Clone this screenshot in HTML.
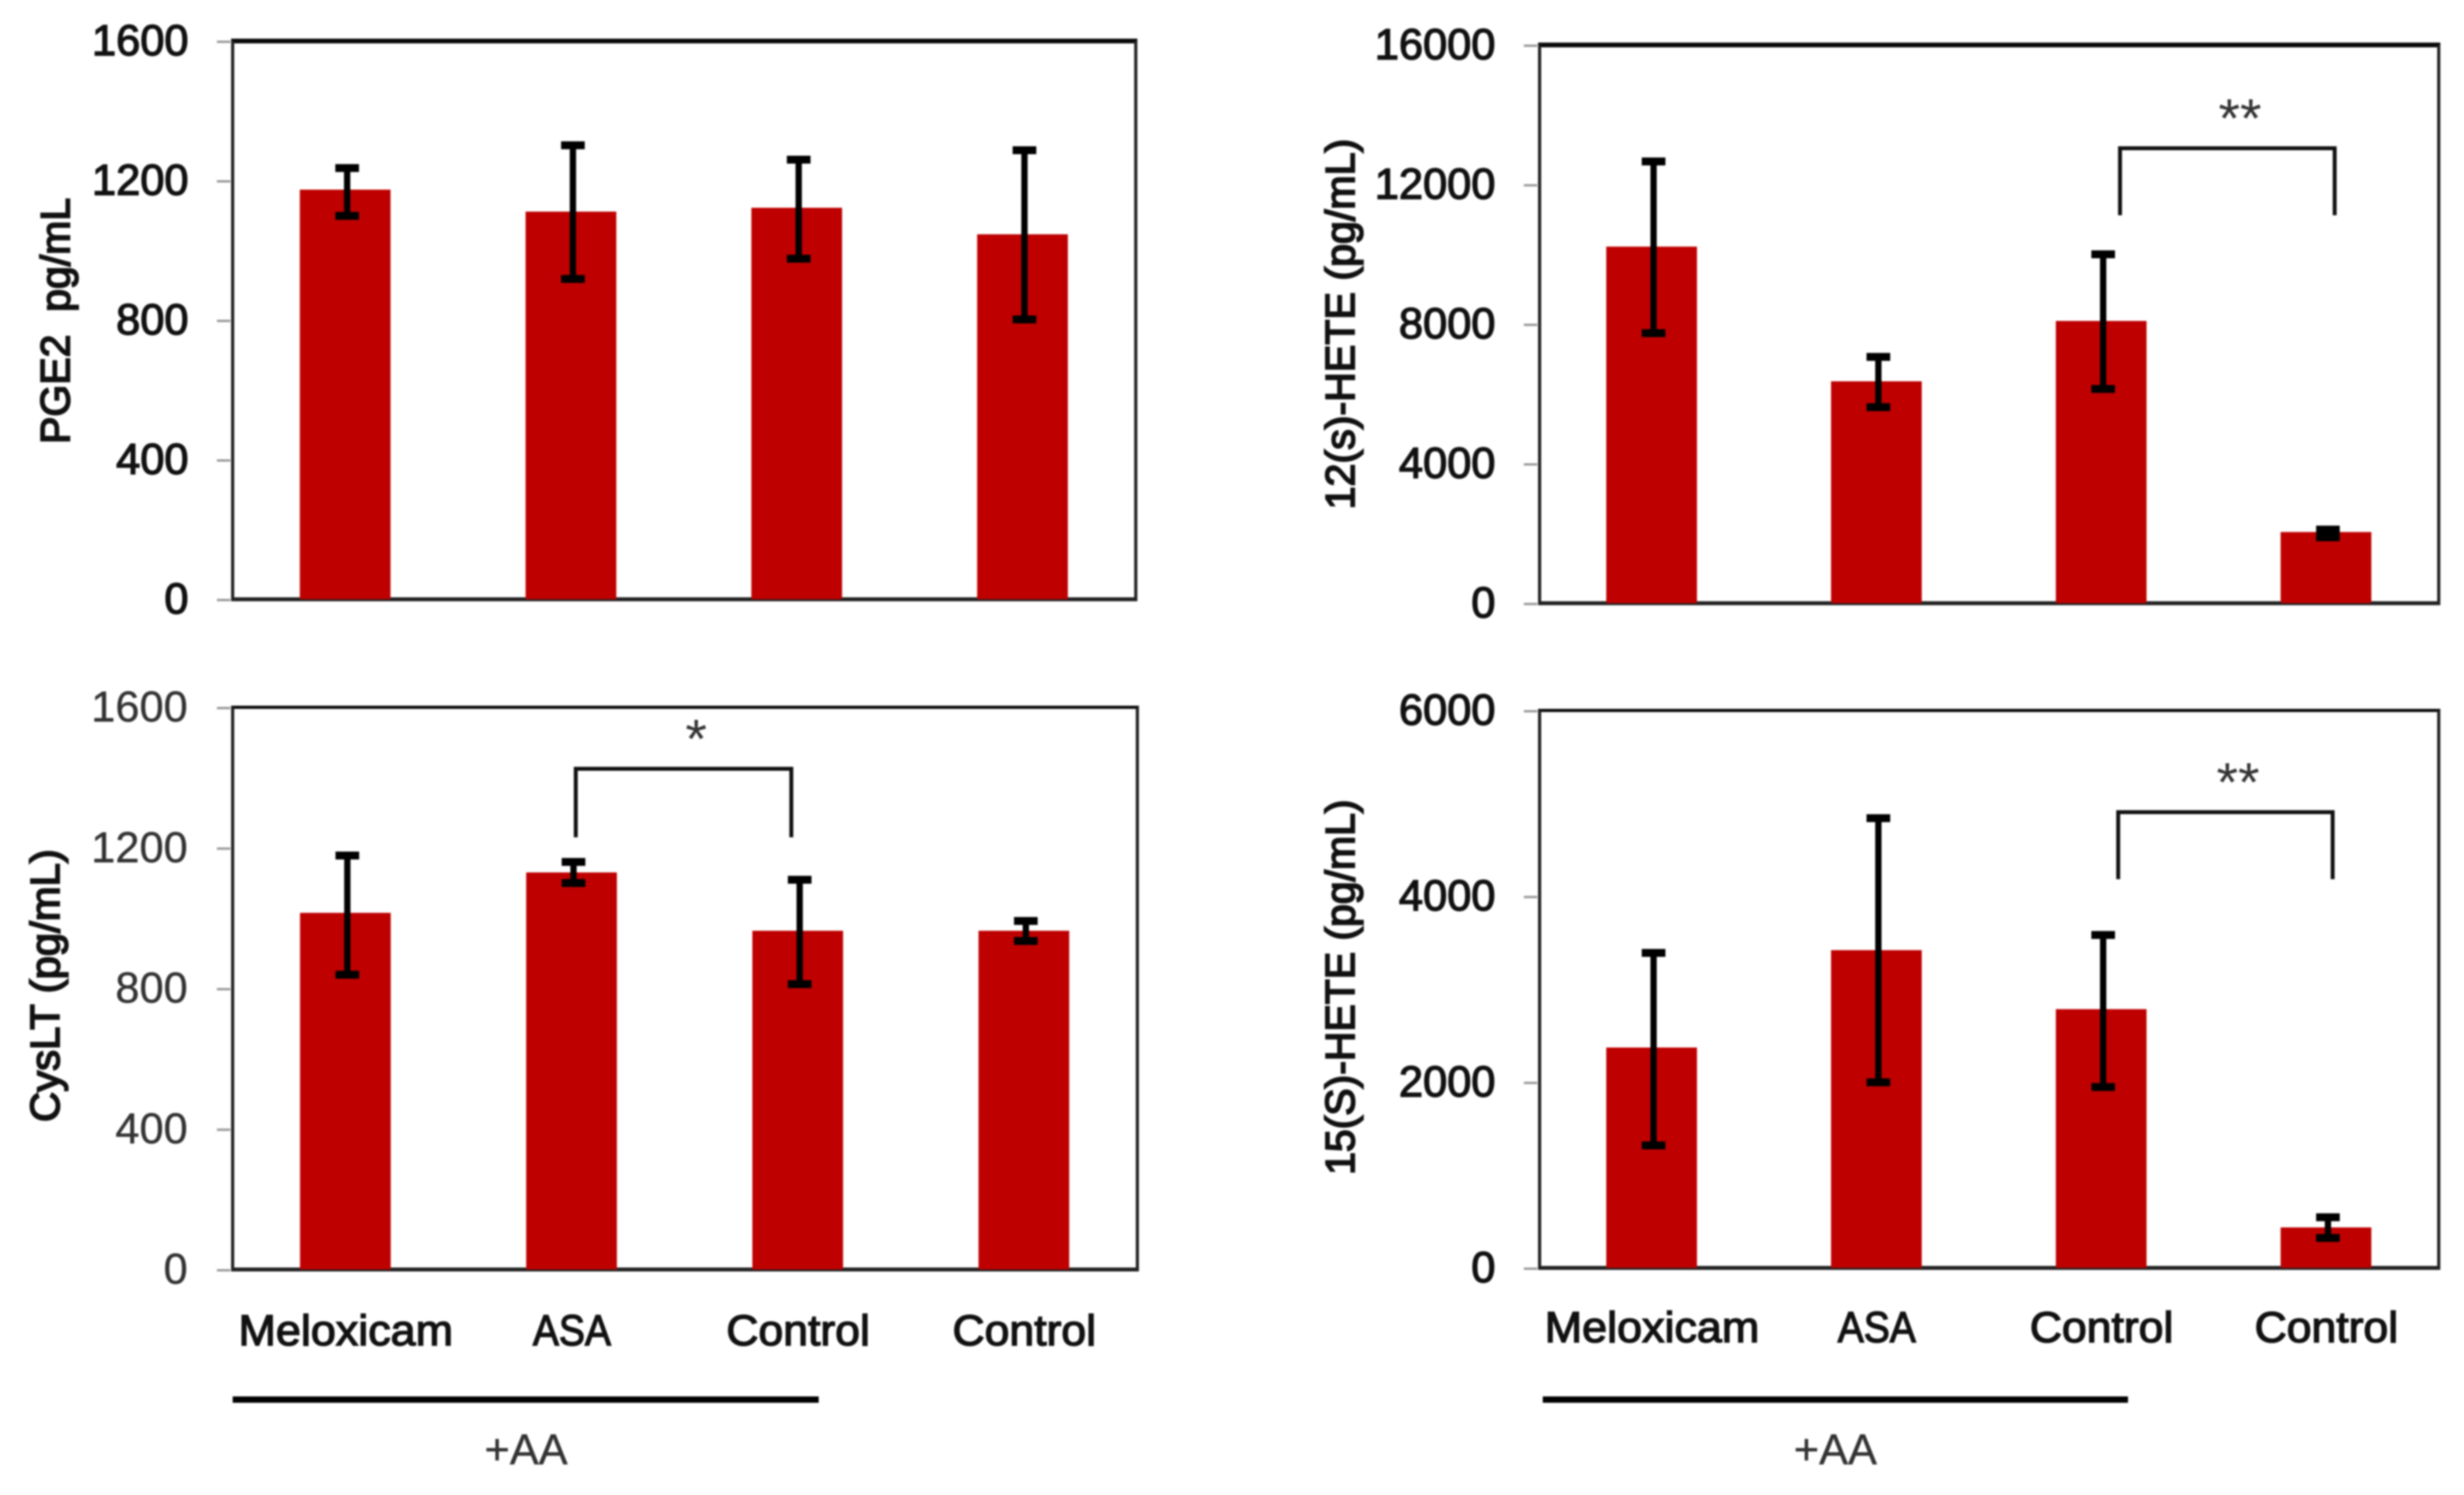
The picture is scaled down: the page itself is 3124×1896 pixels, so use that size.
<!DOCTYPE html>
<html lang="en">
<head>
<meta charset="utf-8">
<title>Eicosanoid levels by treatment</title>
<style>
  html, body { margin: 0; padding: 0; background: #fff; }
  body { width: 3124px; height: 1896px; overflow: hidden; }
  svg { display: block; filter: blur(1px); }
  text { font-family: "Liberation Sans", sans-serif; fill: #111; }
  .semi { stroke: #111; stroke-width: 1.7px; }
  .title { stroke: #111; stroke-width: 2.2px; }
  .light { fill: #333; stroke: #333; stroke-width: 0.5px; }
  .star { fill: #333; }
</style>
</head>
<body>
<svg id="figure" width="3124" height="1896" viewBox="0 0 3124 1896" xmlns="http://www.w3.org/2000/svg"></svg>
<script>
const categories = ["Meloxicam", "ASA", "Control", "Control"];

const pge2Values = [1174, 1111, 1122, 1046];
const pge2Upper = [1236, 1301, 1260, 1287];
const pge2Lower = [1099, 918, 976, 802];
const pge2Ticks = [0, 400, 800, 1200, 1600];

const hete12Values = [10220, 6360, 8090, 2040];
const hete12Upper = [12660, 7060, 10000, 2110];
const hete12Lower = [7740, 5620, 6140, 1890];
const hete12Ticks = [0, 4000, 8000, 12000, 16000];

const cysltValues = [1015, 1130, 964, 964];
const cysltUpper = [1178, 1160, 1109, 992];
const cysltLower = [839, 1100, 812, 935];
const cysltTicks = [0, 400, 800, 1200, 1600];

const hete15Values = [2372, 3420, 2785, 436];
const hete15Upper = [3390, 4840, 3583, 545];
const hete15Lower = [1319, 1998, 1947, 323];
const hete15Ticks = [0, 2000, 4000, 6000];

const NS = "http://www.w3.org/2000/svg";
const root = document.getElementById("figure");

function make(tag, attrs, parent, content) {
  const node = document.createElementNS(NS, tag);
  for (const key in attrs) node.setAttribute(key, attrs[key]);
  if (content !== undefined) node.textContent = content;
  parent.appendChild(node);
  return node;
}

function drawPanel(p) {
  const g = make("g", {}, root);
  
  

  const yMax = p.ticks[p.ticks.length - 1];
  const y = v => p.bottom - (v / yMax) * (p.bottom - p.top);
  const band = (p.right - p.left) / categories.length;
  const x = i => p.left + band * (i + 0.5);

  p.ticks.forEach(t => {
    const tick = make("line", { x1: p.left - 20, x2: p.left - 3, y1: y(t) + 1, y2: y(t) + 1, stroke: "#9a9a9a", "stroke-width": 3 }, g);
    
    
    const label = make("text", { x: p.labelRight, y: y(t) + 18, "text-anchor": "end", "font-size": 55, class: p.tickClass }, g, String(t));
    
    
  });

  const frame = make("g", {}, g);
  
  
  make("line", { x1: p.left - 2, x2: p.right + 2, y1: p.top, y2: p.top, stroke: "#0a0a0a", "stroke-width": p.topWeight }, frame);
  make("line", { x1: p.left, x2: p.left, y1: p.top, y2: p.bottom, stroke: "#222", "stroke-width": 4 }, frame);
  make("line", { x1: p.right, x2: p.right, y1: p.top, y2: p.bottom, stroke: "#222", "stroke-width": 4 }, frame);
  const base = make("line", { x1: p.left - 2, x2: p.right + 2, y1: p.bottom, y2: p.bottom, stroke: "#222", "stroke-width": 5 }, g);
  
  

  p.values.forEach((v, i) => {
    const bar = make("rect", { x: x(i) - 58, y: y(v), width: 115, height: p.bottom - y(v), fill: "#bf0000" }, g);
    
    
  });

  p.values.forEach((v, i) => {
    const err = make("g", { stroke: "#000", fill: "none" }, g);
    
    
    const cx = x(i) + 2;
    const hi = y(p.upper[i]);
    const lo = y(p.lower[i]);
    make("line", { x1: cx, x2: cx, y1: hi, y2: lo, "stroke-width": 8 }, err);
    make("line", { x1: cx - 15, x2: cx + 15, y1: hi, y2: hi, "stroke-width": 10 }, err);
    make("line", { x1: cx - 15, x2: cx + 15, y1: lo, y2: lo, "stroke-width": 10 }, err);
  });

  const title = make("text", {
    x: 0, y: 0, transform: "translate(" + p.titleX + "," + p.titleY + ") rotate(-90)",
    "text-anchor": "middle", "font-size": 52, class: "title",
    textLength: p.titleLen, lengthAdjust: "spacingAndGlyphs"
  }, g, p.title);
  title.style.whiteSpace = "pre";
  
  

  if (p.bracket) {
    const b = p.bracket;
    const x1 = x(b.fromIndex), x2 = x(b.toIndex), yTop = y(b.topValue), yEnd = y(b.endValue);
    const path = make("polyline", {
      points: [x1, yEnd, x1, yTop, x2, yTop, x2, yEnd].join(" "),
      fill: "none", stroke: "#111", "stroke-width": 5
    }, g);
    
    
    const star = make("text", { x: (x1 + x2) / 2 + 16, y: yTop - 14, "text-anchor": "middle", "font-size": 70, class: "star" }, g, b.mark);
    
    
  }

  if (p.showCategories) {
    categories.forEach((c, i) => {
      const cat = make("text", { x: x(i), y: p.catBaseline, "text-anchor": "middle", "font-size": 55, class: "semi" }, g, c);
      if (c === "ASA") {
        cat.setAttribute("textLength", 99);
        cat.setAttribute("lengthAdjust", "spacingAndGlyphs");
      } else if (c === "Meloxicam") {
        cat.setAttribute("textLength", 272);
        cat.setAttribute("lengthAdjust", "spacingAndGlyphs");
      } else {
        cat.setAttribute("textLength", 182);
        cat.setAttribute("lengthAdjust", "spacingAndGlyphs");
      }
      
      
    });
    const rule = make("line", { x1: p.ruleStart, x2: 0, y1: 1775, y2: 1775, stroke: "#000", "stroke-width": 8 }, g);
    rule.setAttribute("x2", p.ruleEnd);
    
    
    const aa = make("text", { x: p.aaX, y: 1857, "text-anchor": "middle", "font-size": 55, class: "light" }, g, "+AA");
    
    
  }
}

drawPanel({
  id: "pge2", title: "PGE2  pg/mL", values: pge2Values, upper: pge2Upper, lower: pge2Lower, ticks: pge2Ticks,
  left: 295, right: 1440, top: 52, bottom: 760, labelRight: 239, topWeight: 6, tickClass: "semi",
  titleX: 88, titleY: 407, titleLen: 312
});
drawPanel({
  id: "hete12", title: "12(s)-HETE (pg/mL)", values: hete12Values, upper: hete12Upper, lower: hete12Lower, ticks: hete12Ticks,
  left: 1952, right: 3092, top: 57, bottom: 765, labelRight: 1896, topWeight: 6, tickClass: "semi",
  titleX: 1717, titleY: 411, titleLen: 470,
  bracket: { fromIndex: 2.082, toIndex: 3.037, topValue: 13040, endValue: 11119, mark: "**" }
});
drawPanel({
  id: "cyslt", title: "CysLT (pg/mL)", values: cysltValues, upper: cysltUpper, lower: cysltLower, ticks: cysltTicks,
  left: 295, right: 1442, top: 897, bottom: 1610, labelRight: 238, topWeight: 4, tickClass: "light",
  titleX: 75, titleY: 1250, titleLen: 346,
  bracket: { fromIndex: 1.017, toIndex: 1.97, topValue: 1425, endValue: 1230, mark: "*" },
  showCategories: true, catBaseline: 1706, ruleStart: 295, ruleEnd: 1038, aaX: 667
});
drawPanel({
  id: "hete15", title: "15(S)-HETE (pg/mL)", values: hete15Values, upper: hete15Upper, lower: hete15Lower, ticks: hete15Ticks,
  left: 1952, right: 3092, top: 901, bottom: 1608, labelRight: 1896, topWeight: 4, tickClass: "semi",
  titleX: 1717, titleY: 1252, titleLen: 476,
  bracket: { fromIndex: 2.074, toIndex: 3.028, topValue: 4905, endValue: 4184, mark: "**" },
  showCategories: true, catBaseline: 1702, ruleStart: 1956, ruleEnd: 2698, aaX: 2327
});
</script>
</body>
</html>
